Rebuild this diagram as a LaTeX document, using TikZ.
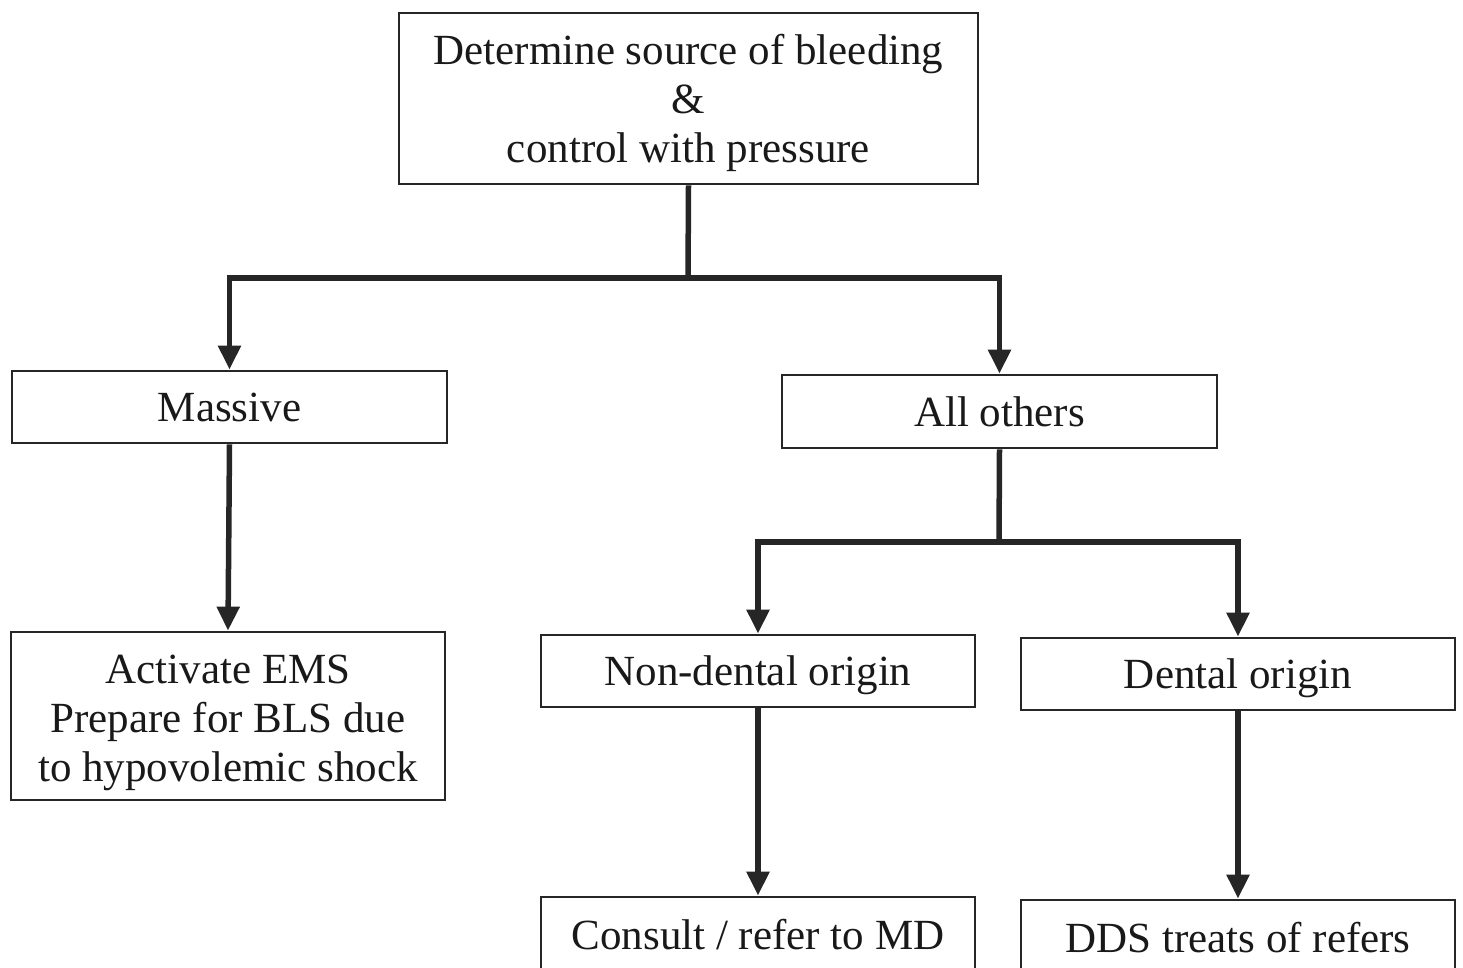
\documentclass[tikz,border=0pt]{standalone}
\usepackage{fontspec}
\setmainfont{Liberation Serif}
\usetikzlibrary{arrows.meta}
\newcommand{\downby}[1]{\rule{0pt}{#1}}
\begin{document}
\begin{tikzpicture}[x=1pt,y=-1pt,
  box/.style={draw=black!85,line width=2.8pt,minimum width=434pt,inner sep=0pt,align=center,font=\fontsize{43}{49}\selectfont,text=black!90},
  conn/.style={draw=black!85,line width=5.5pt},
  arr/.style={conn,-{Triangle[width=22pt,length=24pt]}}]
\useasboundingbox (0,0) rectangle (1463,967);
\begin{scope}
\clip (0,0) rectangle (1463,967);
\node[box,minimum width=579pt,minimum height=171pt] (top) at (688.5,98.5) {\downby{40pt}Determine source of bleeding\\\&\\control with pressure};
\node[box,minimum width=435pt,minimum height=72pt] (massive) at (229.5,407) {Massive};
\node[box,minimum width=435pt,minimum height=73pt] (others) at (999.5,411.5) {All others};
\node[box,minimum height=168pt] (ems) at (228,716) {\downby{43pt}Activate EMS\\Prepare for BLS due\\to hypovolemic shock};
\node[box,minimum height=72pt] (nondental) at (758,671) {\downby{39pt}Non-dental origin};
\node[box,minimum height=72pt] (dental) at (1238,674) {\downby{39pt}Dental origin};
\node[box,minimum height=76pt] (consult) at (758,935) {Consult / refer to MD};
\node[box,minimum height=76pt] (dds) at (1238,938) {DDS treats of refers};
\coordinate (j1) at (688,278);
\coordinate (j2) at (999,542);
\draw[conn] (top.south) -- (j1);
\draw[arr] (j1) -| (massive.north);
\draw[arr] (j1) -| (others.north);
\draw[arr] (massive.south) -- (ems.north);
\draw[conn] (others.south) -- (j2);
\draw[arr] (j2) -| (nondental.north);
\draw[arr] (j2) -| (dental.north);
\draw[arr] (nondental.south) -- (consult.north);
\draw[arr] (dental.south) -- (dds.north);
\end{scope}
\end{tikzpicture}
\end{document}
